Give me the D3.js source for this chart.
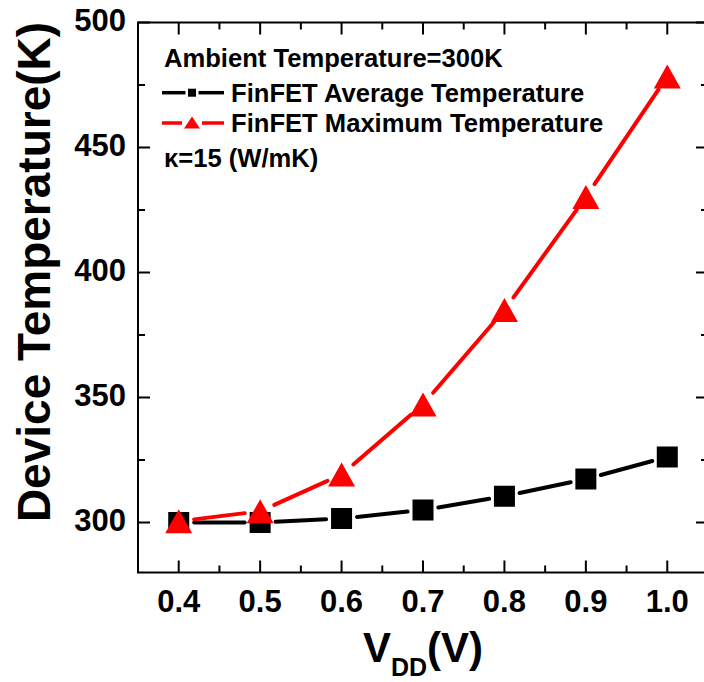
<!DOCTYPE html>
<html>
<head>
<meta charset="utf-8">
<script src="https://cdn.jsdelivr.net/npm/d3@7"></script>
<style>
  body { margin: 0; background: #fff; }
  svg text { font-family: "Liberation Sans", Arial, sans-serif; font-weight: bold; }
</style>
</head>
<body>
<div id="chart"></div>
<script>
// values
var vdd = [0.4, 0.5, 0.6, 0.7, 0.8, 0.9, 1.0];
var avgTemp = [300, 300, 301.6, 305, 310.5, 317.4, 326.2];
var maxTemp = [300.5, 304.5, 319.2, 347.2, 385, 430.2, 478.4];
var xTicks = [0.4, 0.5, 0.6, 0.7, 0.8, 0.9, 1.0];
var yTicks = [300, 350, 400, 450, 500];
var legendLines = ["Ambient Temperature=300K", "FinFET Average Temperature", "FinFET Maximum Temperature", "\u03ba=15 (W/mK)"];

var W = 704, H = 682;
// note: "top" is taken by window.top, so plot edges get their own names
var pLeft = 138, pRight = 708, pTop = 22.5, pBottom = 572.5;

var svg = d3.select("#chart").append("svg")
    .attr("width", W)
    .attr("height", H);

var x = d3.scaleLinear().domain([0.35, 1.05]).range([pLeft, pRight]);
var y = d3.scaleLinear().domain([280, 500]).range([pBottom, pTop]);

var xMinor = d3.range(0.45, 1.05, 0.1);
var yMinor = d3.range(325, 500, 50);

// frame
svg.append("rect")
    .attr("x", pLeft).attr("y", pTop)
    .attr("width", pRight - pLeft).attr("height", pBottom - pTop)
    .style("fill", "none").style("stroke", "#000").style("stroke-width", 2);

// ticks point inward
function tickLines(g, vals, len, horiz) {
    g.selectAll(null).data(vals).enter().append("line")
        .attr("x1", d => horiz ? x(d) : pLeft)
        .attr("x2", d => horiz ? x(d) : pLeft + len)
        .attr("y1", d => horiz ? pBottom : y(d))
        .attr("y2", d => horiz ? pBottom - len : y(d))
        .style("stroke", "#000").style("stroke-width", 2);
    // mirrored on top / right
    g.selectAll(null).data(vals).enter().append("line")
        .attr("x1", d => horiz ? x(d) : pRight)
        .attr("x2", d => horiz ? x(d) : pRight - len)
        .attr("y1", d => horiz ? pTop : y(d))
        .attr("y2", d => horiz ? pTop + len : y(d))
        .style("stroke", "#000").style("stroke-width", 2);
}
var ticks = svg.append("g").attr("class", "ticks");
tickLines(ticks, xTicks, 12, true);
tickLines(ticks, xMinor, 7, true);
tickLines(ticks, yTicks, 12, false);
tickLines(ticks, yMinor, 7, false);

svg.append("g").selectAll("text").data(xTicks).enter().append("text")
    .attr("x", d => x(d))
    .attr("y", 612)
    .style("font-size", "31px")
    .style("text-anchor", "middle")
    .text(d => d.toFixed(1));

svg.append("g").selectAll("text").data(yTicks).enter().append("text")
    .attr("x", 126)
    .attr("y", d => y(d) + 8)
    .style("font-size", "31px")
    .style("text-anchor", "end")
    .text(d => d);

// axis titles
svg.append("text")
    .attr("transform", "translate(50,272) rotate(-90)")
    .style("font-size", "46px")
    .style("text-anchor", "middle")
    .text("Device Temperature(K)");

var xt = svg.append("text")
    .attr("x", x(0.7))
    .attr("y", 662)
    .style("font-size", "42px")
    .style("text-anchor", "middle");
xt.append("tspan").text("V");
xt.append("tspan").attr("dy", 14).style("font-size", "25px").text("DD");
xt.append("tspan").attr("dy", -14).text("(V)");

// series lines, with a gap round each marker
function gappedLine(vals, color, gap) {
    var pts = vals.map((v, i) => [x(vdd[i]), y(v)]);
    var segs = d3.pairs(pts).map(p => {
        var dx = p[1][0] - p[0][0], dy = p[1][1] - p[0][1];
        var len = Math.sqrt(dx * dx + dy * dy);
        var ux = dx / len, uy = dy / len;
        return [p[0][0] + ux * gap, p[0][1] + uy * gap, p[1][0] - ux * gap, p[1][1] - uy * gap];
    });
    svg.append("g").selectAll("line").data(segs).enter().append("line")
        .attr("x1", d => d[0]).attr("y1", d => d[1])
        .attr("x2", d => d[2]).attr("y2", d => d[3])
        .style("stroke", color).style("stroke-width", 4).style("stroke-linecap", "round");
}

function triPath(w, h) {
    return "M0," + (-h / 2) + "L" + (w / 2) + "," + (h / 2) + "L" + (-w / 2) + "," + (h / 2) + "Z";
}

gappedLine(avgTemp, "#000", 15.5);
gappedLine(maxTemp, "#ff0000", 15.5);

svg.append("g").selectAll("rect").data(avgTemp).enter().append("rect")
    .attr("x", (d, i) => x(vdd[i]) - 10.5)
    .attr("y", d => y(d) - 10.5)
    .attr("width", 21).attr("height", 21)
    .style("fill", "#000");

svg.append("g").selectAll("path").data(maxTemp).enter().append("path")
    .attr("transform", (d, i) => "translate(" + x(vdd[i]) + "," + y(d) + ")")
    .attr("d", triPath(27, 24))
    .style("fill", "#ff0000");

// legend
var legend = svg.append("g").attr("class", "legend");
var rowY = [66.7, 101.7, 132, 166.7];

legend.selectAll("text").data(legendLines).enter().append("text")
    .attr("x", (d, i) => (i == 1 || i == 2) ? 231 : 164)
    .attr("y", (d, i) => rowY[i])
    .style("font-size", "25.6px")
    .text(d => d);

var keys = [{row: 1, color: "#000", gap: 6.5}, {row: 2, color: "#ff0000", gap: 10}];
keys.forEach(k => {
    var cy = rowY[k.row] - 9;
    legend.append("line").attr("x1", 162).attr("x2", 192 - k.gap).attr("y1", cy).attr("y2", cy)
        .style("stroke", k.color).style("stroke-width", 3.5);
    legend.append("line").attr("x1", 192 + k.gap).attr("x2", 224).attr("y1", cy).attr("y2", cy)
        .style("stroke", k.color).style("stroke-width", 3.5);
});
legend.append("rect")
    .attr("x", 188).attr("y", rowY[1] - 13).attr("width", 8).attr("height", 8)
    .style("fill", "#000");
legend.append("path")
    .attr("transform", "translate(192," + (rowY[2] - 9.5) + ")")
    .attr("d", triPath(16, 12))
    .style("fill", "#ff0000");
</script>
</body>
</html>
